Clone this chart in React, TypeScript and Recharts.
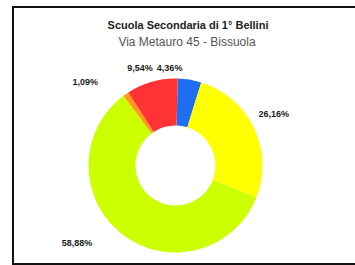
import { PieChart, Pie, Cell } from 'recharts'

// slices clockwise from 12 o'clock
const categories = ['A', 'B', 'C', 'D', 'E']
const values = [4.36, 26.16, 58.88, 1.09, 9.54]
const COLORS = ['#1f6ef2', '#ffff00', '#ccff00', '#ff9a1a', '#ff3333']

const TITLE = 'Scuola Secondaria di 1° Bellini'
const SUBTITLE = 'Via Metauro 45 - Bissuola'

// small hand nudges to mimic Excel's "best fit" label placement
const LABEL_NUDGE = [
  [-23, -1],
  [1, -9],
  [-33, 0],
  [-30, -3],
  [-7, -3],
]

const RAD = Math.PI / 180
const FONT = '"Liberation Sans", Arial, sans-serif'

const fmt = (v: number) => `${v.toFixed(2).replace('.', ',')}%`

const renderLabel = (props: any) => {
  const { cx, cy, midAngle, outerRadius, index, value } = props
  const text = fmt(value)
  const w = text.length * 5
  const h = 10
  const r = outerRadius + 6
  const c = Math.cos(-midAngle * RAD)
  const s = Math.sin(-midAngle * RAD)
  const [dx, dy] = LABEL_NUDGE[index] || [0, 0]
  const x = cx + r * c + (w / 2) * c + dx
  const y = cy + r * s + (h / 2) * s + dy
  return (
    <text
      x={x}
      y={y}
      textAnchor="middle"
      dominantBaseline="central"
      fontSize={9}
      fontWeight="bold"
      fill="#1a1a1a"
      fontFamily={FONT}
    >
      {text}
    </text>
  )
}

export default function App() {
  const data = categories.map((name, i) => ({ name, value: values[i] }))

  return (
    <div
      style={{
        position: 'absolute',
        left: 0,
        top: 0,
        width: 355,
        height: 265,
        background: '#fff',
        overflow: 'hidden',
        fontFamily: FONT,
      }}
    >
      <div
        style={{
          position: 'absolute',
          left: 12,
          top: 6,
          width: 360,
          height: 255,
          border: '2px solid #111',
        }}
      />
      <div
        style={{
          position: 'absolute',
          left: 0,
          width: 376,
          top: 19,
          textAlign: 'center',
          fontSize: 11,
          fontWeight: 'bold',
          color: '#222',
          lineHeight: '12px',
        }}
      >
        {TITLE}
      </div>
      <div
        style={{
          position: 'absolute',
          left: 0,
          width: 374,
          top: 36,
          textAlign: 'center',
          fontSize: 12,
          color: '#555',
          lineHeight: '13px',
        }}
      >
        {SUBTITLE}
      </div>
      <div style={{ position: 'absolute', left: 0, top: 0 }}>
        <PieChart width={355} height={265}>
          <Pie
            data={data}
            dataKey="value"
            nameKey="name"
            cx={170.5}
            cy={160.5}
            innerRadius={40}
            outerRadius={87}
            startAngle={88.5}
            endAngle={88.5 - 360}
            stroke="none"
            label={renderLabel}
            labelLine={false}
            isAnimationActive={false}
          >
            {data.map((entry, index) => (
              <Cell key={`cell-${index}`} fill={COLORS[index % COLORS.length]} />
            ))}
          </Pie>
        </PieChart>
      </div>
    </div>
  )
}
